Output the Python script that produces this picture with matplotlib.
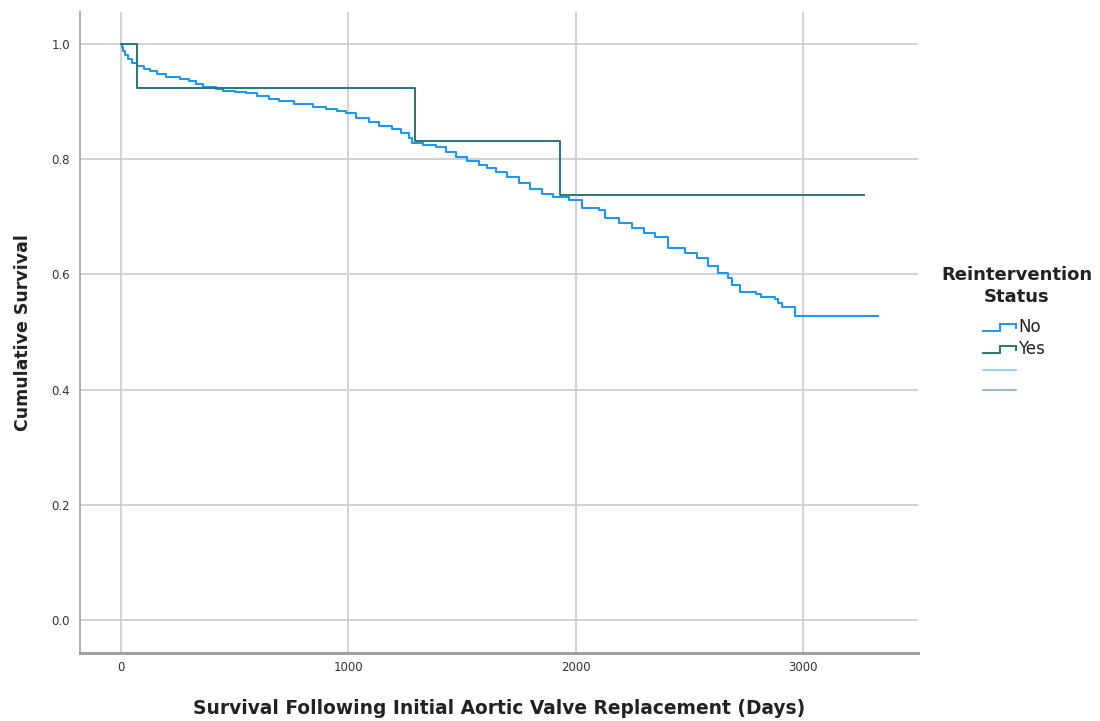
"""Kaplan-Meier survival by reintervention status (SPSS-style recreation)."""

import numpy as np
import matplotlib
matplotlib.use("Agg")
import matplotlib.pyplot as plt

PALETTE = {
    "no": "#2196ee",
    "yes": "#2a7775",
    "no_cens": "#8cc8f2",
    "yes_cens": "#86b3b1",
    "grid": "#cfcfcf",
    "spine": "#a0a0a0",
    "ink": "#222222",
    "tick": "#333333",
}

# step change points (days, cumulative survival)
no_days = [0, 4, 10, 18, 30, 47, 69, 100, 127, 160, 200, 259, 300, 332, 361,
           419, 449, 500, 551, 600, 650, 697, 760, 843, 900, 950, 990, 1034,
           1090, 1136, 1194, 1230, 1268, 1282, 1330, 1385, 1430, 1472, 1520,
           1575, 1610, 1648, 1700, 1750, 1800, 1852, 1900, 1969, 2028, 2101,
           2130, 2190, 2247, 2300, 2349, 2408, 2481, 2532, 2580, 2627, 2671,
           2686, 2722, 2795, 2817, 2876, 2890, 2905, 2966, 3329]
no_surv = [1.0, 0.995, 0.988, 0.981, 0.974, 0.966, 0.961, 0.957, 0.953, 0.948,
           0.942, 0.938, 0.935, 0.931, 0.925, 0.921, 0.918, 0.916, 0.914,
           0.909, 0.905, 0.900, 0.896, 0.891, 0.887, 0.884, 0.880, 0.872,
           0.864, 0.857, 0.852, 0.846, 0.837, 0.828, 0.825, 0.821, 0.812,
           0.804, 0.797, 0.790, 0.784, 0.778, 0.768, 0.758, 0.748, 0.739,
           0.734, 0.729, 0.715, 0.711, 0.697, 0.689, 0.680, 0.672, 0.665,
           0.646, 0.637, 0.628, 0.615, 0.602, 0.593, 0.582, 0.570, 0.566,
           0.561, 0.558, 0.550, 0.543, 0.528, 0.528]

yes_days = [0, 70, 1292, 1933, 3268]
yes_surv = [1.0, 0.923, 0.831, 0.738, 0.738]

x_ticks = [0, 1000, 2000, 3000]
y_ticks = [0.0, 0.2, 0.4, 0.6, 0.8, 1.0]

fig = plt.figure(figsize=(11, 7.21), dpi=100)
ax = fig.add_axes([0.0727, 0.0943, 0.7618, 0.8890])

ax.step(no_days, no_surv, where="post", color=PALETTE["no"], lw=1.5)
ax.step(yes_days, yes_surv, where="post", color=PALETTE["yes"], lw=1.4)

ax.set_xlim(-180, 3505)
ax.set_ylim(-0.057, 1.055)
ax.set_xticks(x_ticks)
ax.set_yticks(y_ticks)
ax.set_yticklabels([f"{v:.1f}" for v in y_ticks])
ax.tick_params(length=0, labelsize=8.5, colors=PALETTE["tick"])
ax.tick_params(axis="x", pad=6)
ax.tick_params(axis="y", pad=7)
ax.grid(True, color=PALETTE["grid"], lw=1.3)
ax.set_axisbelow(True)
for side in ("top", "right"):
    ax.spines[side].set_visible(False)
ax.spines["left"].set_color(PALETTE["spine"])
ax.spines["left"].set_linewidth(1.2)
ax.spines["bottom"].set_color(PALETTE["spine"])
ax.spines["bottom"].set_linewidth(2.2)

ax.set_xlabel("Survival Following Initial Aortic Valve Replacement (Days)",
              labelpad=18, fontsize=13.4, fontweight="bold",
              color=PALETTE["ink"])
ax.set_ylabel("Cumulative Survival", labelpad=14, fontsize=12.5,
              fontweight="bold", color=PALETTE["ink"])

# legend drawn in its own frame on the right; one unit = one pixel,
# origin at x=940, y=414 of the image
lax = fig.add_axes([940 / 1100, 307 / 721, 155 / 1100, 173 / 721])
lax.set_xlim(0, 155)
lax.set_ylim(0, 173)
lax.axis("off")
lax.text(77, 173 - 34, "Reintervention", ha="center", va="center",
         fontsize=13, fontweight="bold", color=PALETTE["ink"])
lax.text(77, 173 - 56, "Status", ha="center", va="center",
         fontsize=13, fontweight="bold", color=PALETTE["ink"])


def step_icon(y, color):
    xs = [43, 60, 60, 76, 76]
    ys = [y - 3.5, y - 3.5, y + 3, y + 3, y - 1]
    lax.plot(xs, ys, color=color, lw=1.4, solid_joinstyle="miter")


for name, color, row in (("No", PALETTE["no"], 86), ("Yes", PALETTE["yes"], 108)):
    step_icon(173 - row, color)
    lax.text(78, 173 - row, name, ha="left", va="center", fontsize=12,
             color=PALETTE["ink"])

lax.plot([43, 76], [173 - 129, 173 - 129], color=PALETTE["no_cens"], lw=1.2)
lax.plot([43, 76], [173 - 149, 173 - 149], color=PALETTE["yes_cens"], lw=1.2)

fig.savefig("out.png", dpi=100, facecolor="white")
